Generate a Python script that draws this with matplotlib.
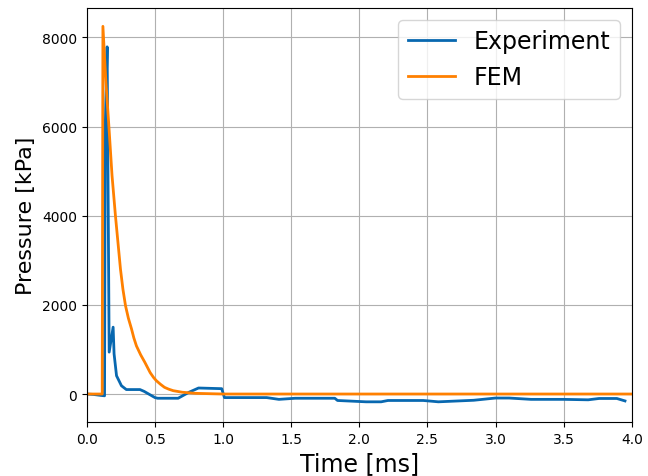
import numpy as np
import matplotlib.pyplot as plt

# measured pressure at the gauge (time in ms, pressure in kPa)
t_exp = [0.0, 0.05, 0.10, 0.13, 0.135, 0.149, 0.164, 0.193, 0.20, 0.218, 0.254, 0.29,
         0.39, 0.42, 0.50, 0.52, 0.67, 0.75, 0.82, 0.99, 1.01, 1.32, 1.41, 1.53,
         1.82, 1.84, 2.05, 2.16, 2.21, 2.47, 2.58, 2.84, 3.00, 3.10, 3.26, 3.50,
         3.68, 3.76, 3.89, 3.95]
p_exp = [0, -10, -30, -40, 6000, 7790, 940, 1500, 900, 410, 186, 100,
         100, 60, -80, -95, -95, 40, 135, 120, -80, -80, -120, -95,
         -95, -145, -175, -175, -145, -145, -175, -140, -90, -90, -120, -120,
         -130, -100, -100, -155]

# finite element prediction
t_fem = [0.0, 0.113, 0.118, 0.14, 0.162, 0.185, 0.21, 0.23, 0.247, 0.265, 0.284,
         0.305, 0.328, 0.345, 0.364, 0.395, 0.426, 0.465, 0.49, 0.51, 0.54,
         0.57, 0.60, 0.634, 0.70, 0.80, 1.0, 2.0, 3.0, 4.0]
p_fem = [0, 0, 8250, 7000, 6000, 4900, 4000, 3350, 2800, 2350, 1980,
         1700, 1460, 1260, 1080, 880, 710, 480, 370, 300, 220,
         150, 110, 75, 40, 15, 0, 0, 0, 0]

fig = plt.figure(figsize=(6.48, 4.77), dpi=100)
ax = fig.add_axes([0.134, 0.113, 0.841, 0.868])

ax.plot(t_exp, p_exp, color='#0868b0', lw=2, label='Experiment')
ax.plot(t_fem, p_fem, color='#ff8000', lw=2, label='FEM')

ax.set_xlim(0, 4)
ax.set_ylim(-630, 8660)
ax.set_xlabel('Time [ms]', fontsize=17)
ax.set_ylabel('Pressure [kPa]', fontsize=16)
ax.grid(True)
ax.legend(loc='upper right', fontsize=17)

fig.savefig('out.png')
